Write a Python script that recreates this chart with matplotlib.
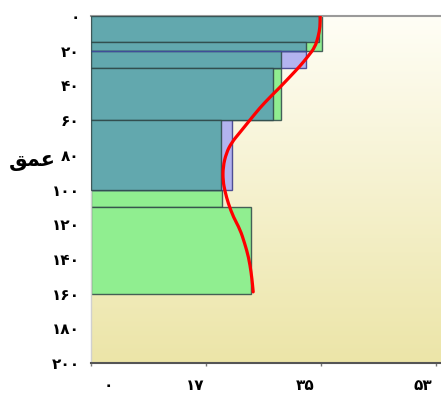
import matplotlib
matplotlib.use("Agg")
import matplotlib.pyplot as plt
import numpy as np
from matplotlib.path import Path
from matplotlib.patches import PathPatch
from matplotlib.transforms import ScaledTranslation

# Axis ticks and labels (Persian digits)
depth_ticks = [0, 20, 40, 60, 80, 100, 120, 140, 160, 180, 200]
depth_tick_labels = ["۰", "۲۰", "۴۰", "۶۰", "۸۰", "۱۰۰", "۱۲۰", "۱۴۰", "۱۶۰", "۱۸۰", "۲۰۰"]
value_ticks = [0, 17.5, 35, 52.5]
value_tick_labels = ["۰", "۱۷", "۳۵", "۵۳"]

# Layer bars: top depth, bottom depth, value
green_top = [0, 30, 100, 110]
green_bottom = [20, 60, 110, 160]
green_value = [35.2, 28.9, 19.9, 24.4]

purple_top = [20, 60]
purple_bottom = [30, 100]
purple_value = [32.7, 21.5]

teal_top = [0, 15, 20, 30, 60]
teal_bottom = [15, 20, 30, 60, 100]
teal_value = [34.7, 32.7, 28.9, 27.7, 19.8]

# Profile curve
curve_depth = [0, 6, 12, 18, 23, 29, 35, 41, 47, 53, 60, 67, 73, 79, 87, 95,
               101, 108, 116, 123, 131, 139, 148, 155, 159]
curve_value = [34.9, 34.9, 34.6, 34.1, 33.1, 31.8, 30.3, 28.8, 27.2, 25.7, 24.2, 22.7,
               21.4, 20.6, 20.1, 20.1, 20.4, 20.9, 21.7, 22.7, 23.4, 24.0, 24.4, 24.6, 24.7]

W, H = 441, 394
fig = plt.figure(figsize=(W / 100, H / 100), dpi=100)
ax = fig.add_axes([91 / W, 1 - 363 / H, 1 - 91 / W, (363 - 16) / H])

xmax = 53.3
ax.set_xlim(0, xmax)
ax.set_ylim(200, 0)

# vertical cream-to-khaki background gradient
top_c = np.array([255, 254, 246]) / 255
bot_c = np.array([236, 229, 168]) / 255
t = np.linspace(0, 1, 256)[:, None]
grad = (top_c[None, :] * (1 - t) + bot_c[None, :] * t)[:, None, :]
ax.imshow(grad, extent=[0, xmax, 200, 0], aspect="auto", zorder=0, interpolation="bicubic")

edge = (0.18, 0.28, 0.28, 0.85)


def draw(tops, bottoms, vals, face, z, ec=edge):
    heights = [b - tp for tp, b in zip(tops, bottoms)]
    ax.barh(tops, vals, height=heights, left=0, align="edge", color=face,
            edgecolor=ec, linewidth=1.0, zorder=z)


draw(green_top, green_bottom, green_value, "#90ee90", 2)
draw(purple_top, purple_bottom, purple_value, "#b3b3ef", 2, ec=(0.25, 0.25, 0.55, 0.9))
draw(teal_top, teal_bottom, teal_value, "#62a8ae", 3)

# top outline of the first purple layer runs across the teal
ax.hlines(purple_top[0], 0, purple_value[0], color=(0.25, 0.3, 0.6), linewidth=1.0, zorder=4)

# smooth profile line: quadratic Bezier pieces through the point midpoints
pts = np.column_stack([curve_value, curve_depth])
verts = [pts[0], (pts[0] + pts[1]) / 2]
codes = [Path.MOVETO, Path.LINETO]
for i in range(1, len(pts) - 1):
    verts += [pts[i], (pts[i] + pts[i + 1]) / 2]
    codes += [Path.CURVE3, Path.CURVE3]
verts.append(pts[-1])
codes.append(Path.LINETO)
ax.add_patch(PathPatch(Path(verts, codes), facecolor="none", edgecolor="#ff0000",
                       linewidth=2.3, capstyle="round", joinstyle="round", zorder=5))

# spines
ax.spines["right"].set_visible(False)
ax.spines["top"].set_color("#9a9a9a")
ax.spines["top"].set_linewidth(1.5)
ax.spines["bottom"].set_color("#555555")
ax.spines["bottom"].set_linewidth(1.5)
ax.spines["left"].set_color("#d0d0d0")
ax.spines["left"].set_linewidth(1.0)

font = dict(family="DejaVu Sans", weight="bold", size=11)

ax.set_yticks(depth_ticks)
ax.set_yticklabels(depth_tick_labels, **font)
ax.tick_params(axis="y", length=0, pad=8)

ax.set_xticks(value_ticks)
ax.set_xticklabels(value_tick_labels, **font)
ax.tick_params(axis="x", length=2, width=1, color="#777777", pad=9)

# shift x labels to their drawn places
shifts_px = [17, -11, -16, -13]
for lab, dx in zip(ax.get_xticklabels(), shifts_px):
    lab.set_transform(lab.get_transform() + ScaledTranslation(dx / 100, 0, fig.dpi_scale_trans))

# axis title "عمق" (shaped glyphs in visual order)
fig.text(32 / W, 1 - 161 / H, "\ufed6\ufee4\ufecb", ha="center", va="center",
         family="DejaVu Sans", weight="bold", size=15)

fig.savefig("out.png", dpi=100)
